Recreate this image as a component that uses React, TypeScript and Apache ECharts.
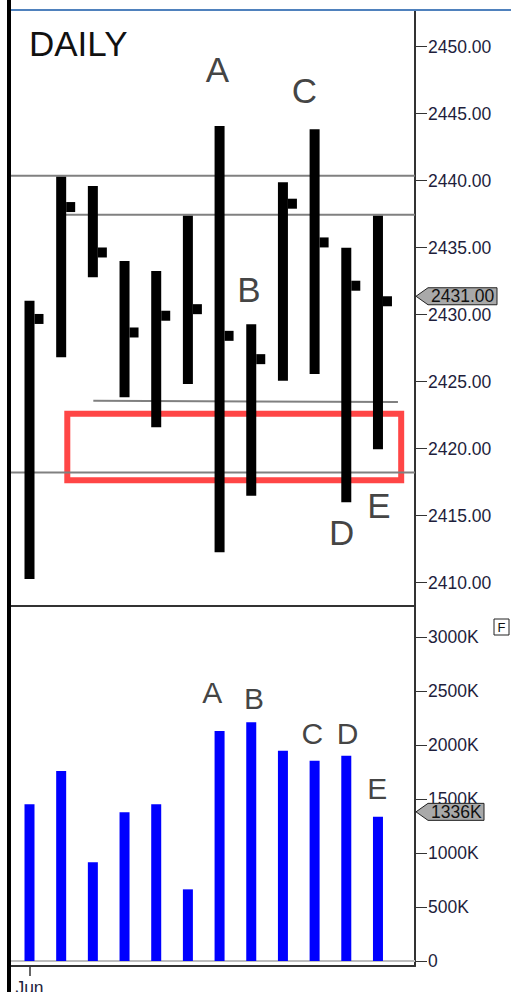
import React, { useEffect, useRef } from "react";
import * as echarts from "echarts";

// ---- data ----
const dayIndex = [0, 1, 2, 3, 4, 5, 6, 7, 8, 9, 10, 11];
const highs = [2431.04, 2440.3, 2439.6, 2434.0, 2433.26, 2437.39, 2444.08, 2429.28, 2439.88, 2443.83, 2435.0, 2437.39];
const lows = [2410.28, 2426.82, 2432.8, 2423.84, 2421.6, 2424.83, 2412.27, 2416.49, 2425.07, 2425.57, 2416.0, 2419.96];
const closes = [2429.68, 2438.03, 2434.64, 2428.67, 2429.92, 2430.41, 2428.42, 2426.68, 2438.28, 2435.39, 2432.16, 2431.0];
const volumes = [1452, 1761, 915, 1378, 1452, 664, 2132, 2212, 1949, 1856, 1903, 1336];

const priceTicks = [2410, 2415, 2420, 2425, 2430, 2435, 2440, 2445, 2450];
const volumeTicks = [0, 500, 1000, 1500, 2000, 2500, 3000];
const monthLabel = "Jun";
const monthTickAt = [0];

// horizontal level lines: [x0, price0, x1, price1]
const levelLines = [
  [-0.584, 2440.37, 12.169, 2440.37],
  [1.016, 2437.46, 12.169, 2437.46],
  [2.014, 2423.58, 11.63, 2423.48],
  [-0.584, 2418.22, 12.169, 2418.22],
];
// red zone box: [x0, priceTop, x1, priceBottom]
const zoneBox = [[1.193, 2422.61, 11.733, 2417.64]];

const priceLetters = [
  [5.93, 2448.26, "A"],
  [6.93, 2431.88, "B"],
  [8.68, 2446.75, "C"],
  [9.85, 2413.78, "D"],
  [11.03, 2415.76, "E"],
];
const volumeLetters = [
  [5.77, 2488, "A"],
  [7.09, 2437, "B"],
  [8.93, 2113, "C"],
  [10.04, 2113, "D"],
  [10.98, 1603, "E"],
];

const lastClose = 2431.0;
const lastVolume = 1336;

const FONT = "'Liberation Sans', Arial, sans-serif";
const LABEL_COLOR = "#1e1e3c";
const AXIS_COLOR = "#333333";
const X_MIN = -0.584;
const X_MAX = 12.169;

export default function App() {
  const ref = useRef<HTMLDivElement>(null);

  useEffect(() => {
    if (!ref.current) return;
    const chart = echarts.init(ref.current, undefined, { renderer: "svg" });

    const baseGraphic: any[] = [
      { id: "leftBorder", type: "rect", shape: { x: 7, y: 0, width: 4, height: 992 }, style: { fill: "#000" }, z: 100 },
      { id: "topLine", type: "line", shape: { x1: 11, y1: 10, x2: 511, y2: 10 }, style: { stroke: "#4f81bd", lineWidth: 2 }, z: 100 },
      {
        id: "daily",
        type: "text",
        x: 29,
        y: 43,
        style: { text: "DAILY", font: `35px ${FONT}`, fill: "#111", verticalAlign: "middle", align: "left" },
        z: 100,
      },
      { id: "fbox", type: "rect", shape: { x: 494, y: 619, width: 15, height: 16 }, style: { fill: "#fff", stroke: "#222", lineWidth: 1 }, z: 100 },
      {
        id: "ftext",
        type: "text",
        x: 501.5,
        y: 627,
        style: { text: "F", font: `13px ${FONT}`, fill: "#111", align: "center", verticalAlign: "middle" },
        z: 101,
      },
    ];

    const axisLabelStyle = { color: LABEL_COLOR, fontSize: 17.5, fontFamily: FONT };

    const option: any = {
      animation: false,
      backgroundColor: "#ffffff",
      grid: [
        { left: 11, top: 11, width: 404, height: 595, outerBoundsMode: "none", containLabel: false },
        { left: 11, top: 606, width: 404, height: 360, outerBoundsMode: "none", containLabel: false },
      ],
      xAxis: [
        {
          type: "value",
          gridIndex: 0,
          min: X_MIN,
          max: X_MAX,
          position: "bottom",
          axisLine: { show: true, onZero: false, lineStyle: { color: AXIS_COLOR, width: 2 } },
          axisTick: { show: false },
          axisLabel: { show: false },
          splitLine: { show: false },
        },
        {
          type: "value",
          gridIndex: 1,
          min: X_MIN,
          max: X_MAX,
          position: "bottom",
          axisLine: { show: true, onZero: false, lineStyle: { color: AXIS_COLOR, width: 2 } },
          axisTick: { show: true, length: 10, customValues: monthTickAt, lineStyle: { color: AXIS_COLOR, width: 1.5 } },
          axisLabel: { show: true, customValues: monthTickAt, formatter: () => monthLabel, margin: 13, ...axisLabelStyle },
          splitLine: { show: false },
        },
      ],
      yAxis: [
        {
          type: "value",
          gridIndex: 0,
          position: "right",
          min: 2408.26,
          max: 2452.66,
          axisLine: { show: true, onZero: false, lineStyle: { color: AXIS_COLOR, width: 2 } },
          axisTick: { show: true, length: 12, customValues: priceTicks, lineStyle: { color: AXIS_COLOR, width: 1 } },
          axisLabel: { show: true, customValues: priceTicks, formatter: (v: number) => v.toFixed(2), margin: 13, ...axisLabelStyle },
          splitLine: { show: false },
        },
        {
          type: "value",
          gridIndex: 1,
          position: "right",
          min: -46.3,
          max: 3290,
          axisLine: { show: true, onZero: false, lineStyle: { color: AXIS_COLOR, width: 2 } },
          axisTick: { show: true, length: 12, customValues: volumeTicks, lineStyle: { color: AXIS_COLOR, width: 1 } },
          axisLabel: {
            show: true,
            customValues: volumeTicks,
            formatter: (v: number) => (v === 0 ? "0" : `${v}K`),
            margin: 13,
            ...axisLabelStyle,
          },
          splitLine: { show: false },
        },
      ],
      series: [
        {
          type: "custom",
          name: "zone",
          xAxisIndex: 0,
          yAxisIndex: 0,
          z: 1,
          data: zoneBox,
          renderItem: (_p: any, api: any) => {
            const a = api.coord([api.value(0), api.value(1)]);
            const b = api.coord([api.value(2), api.value(3)]);
            return {
              type: "rect",
              shape: { x: a[0], y: a[1], width: b[0] - a[0], height: b[1] - a[1] },
              style: { fill: "none", stroke: "#ff4646", lineWidth: 6 },
            };
          },
        },
        {
          type: "custom",
          name: "levels",
          xAxisIndex: 0,
          yAxisIndex: 0,
          z: 2,
          data: levelLines,
          renderItem: (_p: any, api: any) => {
            const a = api.coord([api.value(0), api.value(1)]);
            const b = api.coord([api.value(2), api.value(3)]);
            return {
              type: "line",
              shape: { x1: a[0], y1: a[1], x2: b[0], y2: b[1] },
              style: { stroke: "#808080", lineWidth: 2 },
            };
          },
        },
        {
          type: "custom",
          name: "price",
          xAxisIndex: 0,
          yAxisIndex: 0,
          z: 3,
          data: dayIndex.map((d, i) => [d, highs[i], lows[i], closes[i]]),
          renderItem: (_p: any, api: any) => {
            const x = api.value(0);
            const ph = api.coord([x, api.value(1)]);
            const pl = api.coord([x, api.value(2)]);
            const pc = api.coord([x, api.value(3)]);
            return {
              type: "group",
              children: [
                { type: "rect", shape: { x: ph[0] - 5, y: ph[1], width: 10, height: pl[1] - ph[1] }, style: { fill: "#000" } },
                { type: "rect", shape: { x: ph[0] + 5, y: pc[1] - 5, width: 9, height: 10 }, style: { fill: "#000" } },
              ],
            };
          },
        },
        {
          type: "scatter",
          name: "priceLetters",
          xAxisIndex: 0,
          yAxisIndex: 0,
          z: 4,
          symbolSize: 1,
          itemStyle: { color: "transparent" },
          data: priceLetters,
          label: {
            show: true,
            position: "inside",
            formatter: (p: any) => p.value[2],
            fontSize: 35,
            fontFamily: FONT,
            color: "#111",
          },
        },
        {
          type: "custom",
          name: "zeroLine",
          xAxisIndex: 1,
          yAxisIndex: 1,
          z: 1,
          data: [[X_MIN, 0, X_MAX, 0]],
          renderItem: (_p: any, api: any) => {
            const a = api.coord([api.value(0), api.value(1)]);
            const b = api.coord([api.value(2), api.value(3)]);
            return {
              type: "line",
              shape: { x1: a[0], y1: a[1], x2: b[0], y2: b[1] },
              style: { stroke: "#bdbdbd", lineWidth: 2 },
            };
          },
        },
        {
          type: "bar",
          name: "volume",
          xAxisIndex: 1,
          yAxisIndex: 1,
          z: 3,
          barWidth: 10,
          itemStyle: { color: "#0000ff" },
          data: dayIndex.map((d, i) => [d, volumes[i]]),
        },
        {
          type: "scatter",
          name: "volumeLetters",
          xAxisIndex: 1,
          yAxisIndex: 1,
          z: 4,
          symbolSize: 1,
          itemStyle: { color: "transparent" },
          data: volumeLetters,
          label: {
            show: true,
            position: "inside",
            formatter: (p: any) => p.value[2],
            fontSize: 30,
            fontFamily: FONT,
            color: "#111",
          },
        },
      ],
      graphic: baseGraphic,
    };

    chart.setOption(option);

    const tag = (id: string, cy: number, right: number, text: string) => [
      {
        id: id + "Shape",
        type: "polygon",
        shape: {
          points: [
            [416, cy],
            [428, cy - 8.5],
            [right, cy - 8.5],
            [right, cy + 8.5],
            [428, cy + 8.5],
          ],
        },
        style: { fill: "#a9a9a9", stroke: "#222", lineWidth: 1 },
        z: 110,
      },
      {
        id: id + "Text",
        type: "text",
        x: 431,
        y: cy,
        style: { text, font: `17.5px ${FONT}`, fill: "#111", align: "left", verticalAlign: "middle" },
        z: 111,
      },
    ];

    const cyPrice = (chart.convertToPixel({ yAxisIndex: 0 } as any, lastClose) as any) - 5;
    const cyVol = (chart.convertToPixel({ yAxisIndex: 1 } as any, lastVolume) as any) - 5;

    chart.setOption({
      graphic: [
        ...baseGraphic,
        ...tag("priceTag", cyPrice, 497, lastClose.toFixed(2)),
        ...tag("volTag", cyVol, 484, `${lastVolume}K`),
      ],
    });

    return () => {
      chart.dispose();
    };
  }, []);

  return (
    <div
      ref={ref}
      style={{ position: "absolute", left: 0, top: 0, width: 511, height: 992, background: "#fff" }}
    />
  );
}
